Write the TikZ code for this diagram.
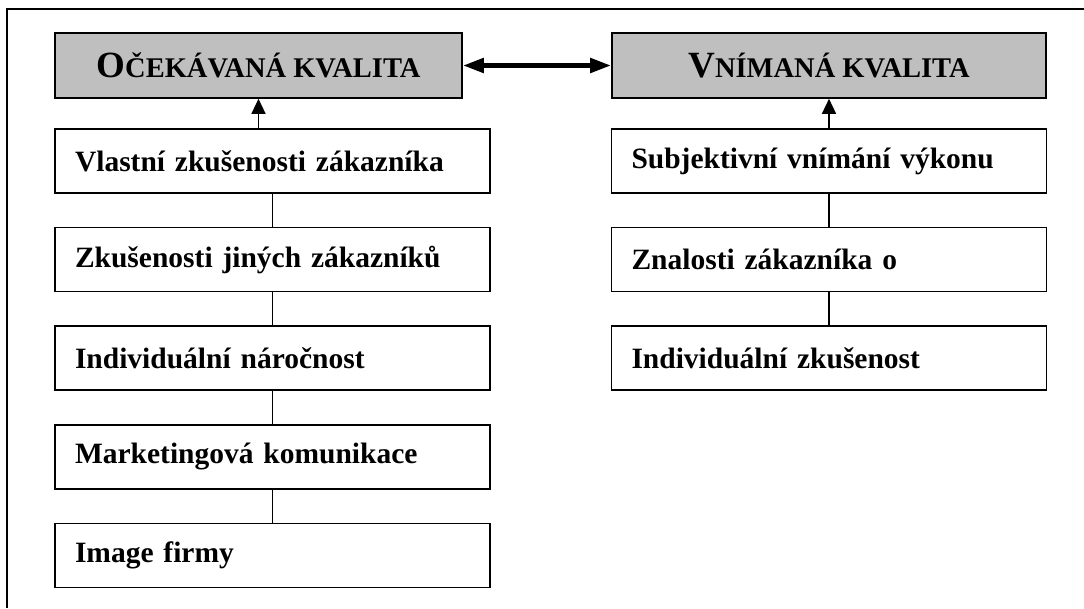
\documentclass[tikz,border=0pt]{standalone}
\usepackage{fontspec}
\setmainfont{Liberation Serif}
\usetikzlibrary{arrows.meta,positioning}

\tikzset{
  hdrbox/.style={draw, line width=1.6pt, fill=gray!50, minimum height=65pt,
    inner sep=0pt, font=\bfseries\fontsize{37pt}{39pt}\selectfont},
  itembox/.style={draw, line width=1.6pt, fill=white, minimum height=64pt,
    text width=395pt, inner xsep=20pt, inner ysep=0pt, align=left,
    font=\bfseries\fontsize{29.5pt}{31pt}\selectfont},
  link/.style={line width=1.3pt},
}
\newcommand{\smc}[1]{{\fontsize{28.5pt}{30pt}\selectfont #1}}

\begin{document}
\begin{tikzpicture}[x=1pt, y=-1pt, node distance=33pt]

  \useasboundingbox (0,0) rectangle (1084,608);

  % --- Frame ---
  \draw[line width=1.5pt] (7,608) -- (7,9) -- (1084,9);

  % --- Headers ---
  \node[hdrbox, minimum width=407pt] (ocek) at (258.5,65.5) {O\smc{ČEKÁVANÁ KVALITA}};
  \node[hdrbox, minimum width=434pt] (vnim) at (829,65.5) {V\smc{NÍMANÁ KVALITA}};

  \draw[line width=4.8pt, {Triangle[length=21pt,width=14pt]}-{Triangle[length=21pt,width=14pt]}]
    (ocek.east) -- (vnim.west);

  % --- Left column ---
  \node[itembox] (vlastni) at (272.5,161) {Vlastní zkušenosti zákazníka};
  \node[itembox, below=of vlastni] (jinych) {Zkušenosti jiných zákazníků};
  \node[itembox, below=of jinych] (narocnost) {Individuální náročnost};
  \node[itembox, below=of narocnost] (komunikace) {Marketingová komunikace};
  \node[itembox, below=of komunikace] (image) {Image firmy};

  % --- Right column ---
  \node[itembox] (subjekt) at (829,161) {Subjektivní vnímání výkonu};
  \node[itembox, below=of subjekt] (znalosti) {Znalosti zákazníka o};
  \node[itembox, below=of znalosti] (zkusenost) {Individuální zkušenost};

  % --- Links ---
  \draw[link, -{Triangle[length=15pt,width=14pt]}] (ocek.south |- vlastni.north) -- (ocek.south);
  \draw[link, -{Triangle[length=15pt,width=14pt]}] (subjekt.north) -- (vnim.south);
  \foreach \a/\b in {vlastni/jinych, jinych/narocnost, narocnost/komunikace,
                     komunikace/image, subjekt/znalosti, znalosti/zkusenost} {
    \draw[link] (\a.south) -- (\b.north);
  }

\end{tikzpicture}
\end{document}
